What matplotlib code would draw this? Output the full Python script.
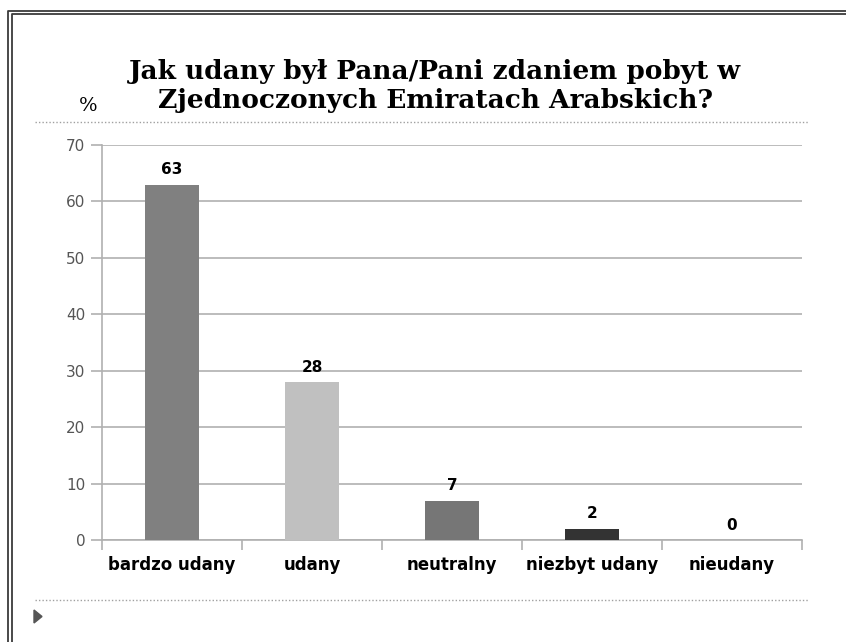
import matplotlib
matplotlib.use("Agg")
import matplotlib.pyplot as plt
from matplotlib.lines import Line2D
from matplotlib.patches import Polygon

categories = ["bardzo udany", "udany", "neutralny", "niezbyt udany", "nieudany"]
values = [63, 28, 7, 2, 0]
colors = ["#808080", "#c0c0c0", "#767676", "#333333", "#999999"]
yticks = [0, 10, 20, 30, 40, 50, 60, 70]
title = "Jak udany był Pana/Pani zdaniem pobyt w\nZjednoczonych Emiratach Arabskich?"

W, H = 846, 642
fig = plt.figure(figsize=(W / 100, H / 100), dpi=100)
fig.patch.set_facecolor("white")

# axes: x 102..802, y 145..540 (pixels from top)
ax = fig.add_axes([102 / W, 1 - 540 / H, 700 / W, 395 / H])
x = list(range(len(categories)))
ax.bar(x, values, width=0.39, color=colors, zorder=3)
ax.set_xlim(-0.5, len(categories) - 0.5)
ax.set_ylim(0, 70)
ax.set_yticks(yticks)
ax.set_yticklabels([str(v) for v in yticks], fontsize=11, color="#555555",
                   family="DejaVu Sans Condensed")
ax.yaxis.grid(True, color="#b0b0b0", linewidth=1.2, zorder=0)
ax.set_axisbelow(True)
for s in ["top", "right"]:
    ax.spines[s].set_visible(False)
ax.spines["left"].set_color("#b0b0b0")
ax.spines["left"].set_linewidth(1.2)
ax.spines["bottom"].set_color("#b0b0b0")
ax.spines["bottom"].set_linewidth(1.2)
ax.tick_params(axis="y", length=8, color="#b0b0b0", width=1.2, pad=4)
ax.set_xticks([i - 0.5 for i in range(len(categories) + 1)])
ax.set_xticklabels([])
ax.tick_params(axis="x", length=7, color="#b0b0b0", width=1.2)
for i, c in enumerate(categories):
    ax.text(i, -2.8, c, ha="center", va="top", fontsize=12, fontweight="bold",
            family="DejaVu Sans Condensed", color="black")
for i, v in enumerate(values):
    ax.text(i, v + 1.3, str(v), ha="center", va="bottom", fontsize=11,
            fontweight="bold", family="DejaVu Sans", color="black")

fig.text(435 / W, 1 - 86 / H, title, ha="center", va="center", fontsize=19,
         fontweight="bold", family="DejaVu Serif", linespacing=1.2)
fig.text(88 / W, 1 - 106 / H, "%", ha="center", va="center", fontsize=14,
         family="DejaVu Serif")

# dotted separators
for yp in [122, 600]:
    fig.add_artist(Line2D([35 / W, 808 / W], [1 - yp / H, 1 - yp / H],
                          transform=fig.transFigure, color="#a0a0a0",
                          linewidth=1, linestyle=(0, (1, 1.5))))
# triangle bullet
fig.add_artist(Polygon([[34 / W, 1 - 610 / H], [34 / W, 1 - 623 / H], [42 / W, 1 - 616.5 / H]],
                       closed=True, transform=fig.transFigure, color="#555555"))
# double frame
for (xx, yy) in [(7.5, 10.5), (11.5, 14)]:
    fig.add_artist(Line2D([xx / W, xx / W, 1], [0, 1 - yy / H, 1 - yy / H],
                          transform=fig.transFigure, color="#3a3a3a", linewidth=1.3))

fig.savefig("out.png", dpi=100, facecolor="white")
